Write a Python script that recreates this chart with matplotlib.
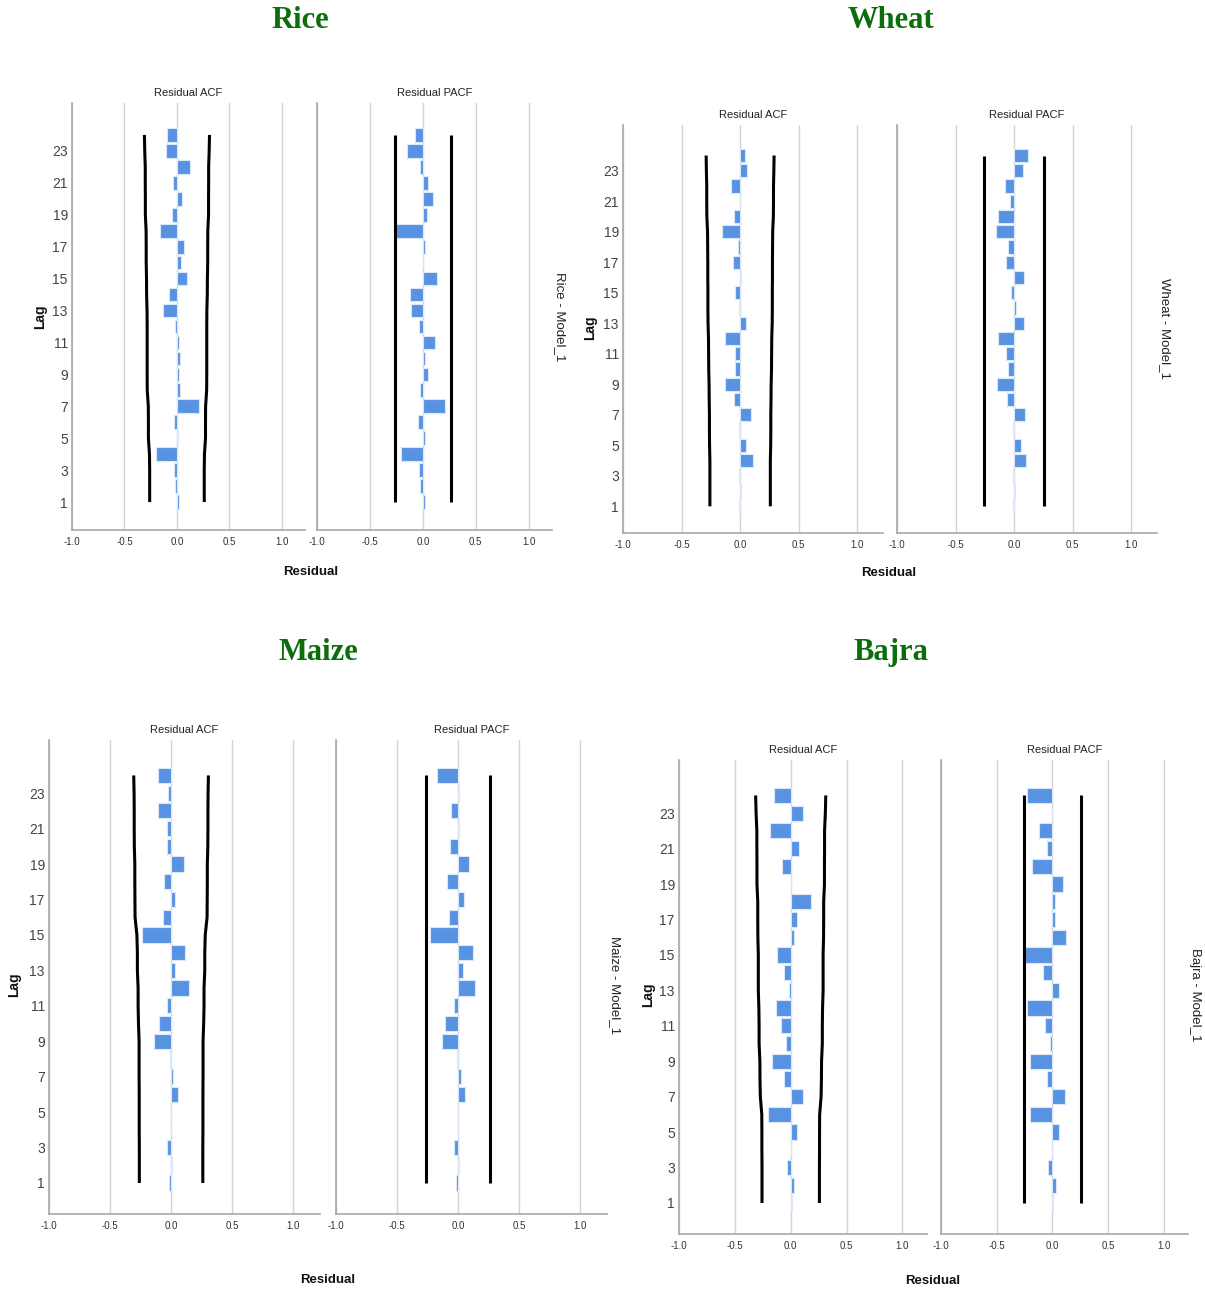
import matplotlib
matplotlib.use("Agg")
import matplotlib.pyplot as plt
import numpy as np

######## Chart data ###################################
lags = list(range(1, 25))

rice_acf = [0.022, -0.022, -0.029, -0.200, 0.013, -0.025, 0.206, 0.032, 0.016, 0.032, 0.016, -0.016,
            -0.137, -0.076, 0.095, 0.041, 0.063, -0.159, -0.044, 0.048, -0.038, 0.127, -0.105, -0.095]
rice_pacf = [0.022, -0.029, -0.032, -0.206, 0.019, -0.048, 0.206, -0.029, 0.044, 0.016, 0.114, -0.032,
             -0.111, -0.124, 0.133, 0.002, 0.016, -0.257, 0.035, 0.098, 0.051, -0.029, -0.146, -0.076]
rice_acf_lim = [0.260, 0.260, 0.260, 0.262, 0.272, 0.272, 0.273, 0.283, 0.284, 0.284, 0.284, 0.284,
                0.285, 0.289, 0.290, 0.293, 0.293, 0.294, 0.301, 0.301, 0.302, 0.302, 0.307, 0.310]
rice_pacf_lim = 0.263

wheat_acf = [-0.011, 0.009, -0.009, 0.108, 0.054, -0.006, 0.091, -0.051, -0.125, -0.043, -0.043, -0.128,
             0.051, -0.006, -0.046, 0.011, -0.057, -0.014, -0.157, -0.051, 0.003, -0.080, 0.057, 0.043]
wheat_pacf = [-0.009, 0.009, -0.006, 0.105, 0.057, -0.006, 0.091, -0.063, -0.145, -0.048, -0.068, -0.137,
              0.088, 0.014, -0.023, 0.083, -0.066, -0.048, -0.154, -0.137, -0.037, -0.074, 0.077, 0.117]
wheat_acf_lim = [0.258, 0.258, 0.258, 0.258, 0.261, 0.262, 0.262, 0.264, 0.265, 0.268, 0.269, 0.270,
                 0.274, 0.275, 0.275, 0.276, 0.276, 0.277, 0.278, 0.284, 0.285, 0.285, 0.288, 0.290]
wheat_pacf_lim = 0.256

maize_acf = [-0.014, 0.005, -0.036, -0.002, 0.002, 0.060, 0.019, -0.005, -0.137, -0.098, -0.030, 0.145,
             0.036, 0.115, -0.240, -0.066, 0.036, -0.055, 0.104, -0.030, -0.036, -0.107, -0.025, -0.107]
maize_pacf = [-0.014, 0.005, -0.033, 0.000, 0.001, 0.060, 0.022, -0.008, -0.131, -0.104, -0.033, 0.139,
              0.044, 0.123, -0.229, -0.074, 0.049, -0.090, 0.087, -0.063, 0.005, -0.057, 0.005, -0.172]
maize_acf_lim = [0.260, 0.260, 0.260, 0.261, 0.261, 0.261, 0.262, 0.262, 0.262, 0.267, 0.270, 0.270,
                 0.276, 0.276, 0.280, 0.295, 0.296, 0.297, 0.297, 0.301, 0.302, 0.302, 0.303, 0.306]
maize_pacf_lim = 0.262

bajra_acf = [0.009, 0.030, -0.036, 0.000, 0.060, -0.201, 0.108, -0.057, -0.165, -0.039, -0.087, -0.135,
             -0.015, -0.057, -0.126, 0.030, 0.054, 0.186, 0.001, -0.075, 0.075, -0.186, 0.111, -0.147]
bajra_pacf = [0.009, 0.030, -0.039, 0.000, 0.063, -0.204, 0.117, -0.048, -0.198, -0.018, -0.063, -0.230,
              0.063, -0.084, -0.254, 0.126, 0.027, 0.027, 0.096, -0.186, -0.048, -0.123, 0.001, -0.230]
bajra_acf_lim = [0.257, 0.257, 0.257, 0.258, 0.258, 0.259, 0.272, 0.275, 0.276, 0.283, 0.283, 0.285,
                 0.290, 0.290, 0.290, 0.294, 0.295, 0.295, 0.302, 0.302, 0.303, 0.303, 0.310, 0.314]
bajra_pacf_lim = 0.258

x_ticks = [-1.0, -0.5, 0.0, 0.5, 1.0]
x_ticklabels = ["-1.0", "-0.5", "0.0", "0.5", "1.0"]
y_ticks = list(range(1, 24, 2))
########################################################

W, H = 1205, 1292
BAR = "#5893e3"
GRID = "#d4d4d4"
SPINE = "#a8a8a8"
NARROW = ["Liberation Sans Narrow", "Liberation Sans", "DejaVu Sans"]

fig = plt.figure(figsize=(W / 100, H / 100), dpi=100)


def px_rect(left, top, right, bottom):
    # convert pixel box to figure fraction
    return [left / W, 1 - bottom / H, (right - left) / W, (bottom - top) / H]


def draw_panel(box, values, limits, title, show_y):
    ax = fig.add_axes(px_rect(*box))
    ax.barh(lags, values, height=0.86, color=BAR, edgecolor="#dbe8fa", linewidth=0.8, zorder=3)
    if np.ndim(limits) == 0:
        lo = [-limits] * len(lags)
        hi = [limits] * len(lags)
    else:
        lo = [-v for v in limits]
        hi = list(limits)
    ax.plot(lo, lags, color="black", lw=2.2, zorder=4, solid_capstyle="butt")
    ax.plot(hi, lags, color="black", lw=2.2, zorder=4, solid_capstyle="butt")
    ax.set_xlim(-1.0, 1.22)
    ax.set_ylim(-0.75, 26)
    ax.set_xticks(x_ticks)
    ax.set_xticklabels(x_ticklabels, fontsize=7, family=NARROW, color="#333333")
    ax.xaxis.grid(True, color=GRID, lw=1.0, zorder=0)
    ax.set_axisbelow(True)
    if show_y:
        ax.set_yticks(y_ticks)
        ax.set_yticklabels([str(v) for v in y_ticks], fontsize=10, family=NARROW, color="#444444")
    else:
        ax.set_yticks([])
    ax.tick_params(axis="x", length=0, pad=5)
    ax.tick_params(axis="y", length=0, pad=3)
    for s in ["top", "right"]:
        ax.spines[s].set_visible(False)
    for s in ["left", "bottom"]:
        ax.spines[s].set_color(SPINE)
        ax.spines[s].set_linewidth(1.2)
    ax.set_title(title, fontsize=8, family=NARROW, color="#222222", pad=5)
    return ax


# Each crop: name, title pos, acf box, pacf box, residual label pos, lag pos, model label pos
crops = [
    ("Rice", (300, 20), (72, 103, 305, 530), (317, 103, 552, 530), (311, 572), (40, 317), (560, 317),
     rice_acf, rice_pacf, rice_acf_lim, rice_pacf_lim),
    ("Wheat", (891, 20), (623, 125, 883, 533), (897, 125, 1157, 533), (889, 573), (590, 328), (1165, 328),
     wheat_acf, wheat_pacf, wheat_acf_lim, wheat_pacf_lim),
    ("Maize", (318, 652), (49, 740, 320, 1214), (336, 740, 607, 1214), (328, 1280), (14, 985), (615, 985),
     maize_acf, maize_pacf, maize_acf_lim, maize_pacf_lim),
    ("Bajra", (891, 652), (679, 760, 927, 1234), (941, 760, 1188, 1234), (933, 1281), (648, 995), (1195, 995),
     bajra_acf, bajra_pacf, bajra_acf_lim, bajra_pacf_lim),
]

for name, tpos, acf_box, pacf_box, rpos, lpos, mpos, acf, pacf, acf_lim, pacf_lim in crops:
    draw_panel(acf_box, acf, acf_lim, "Residual ACF", True)
    draw_panel(pacf_box, pacf, pacf_lim, "Residual PACF", False)

    fig.text(tpos[0] / W, 1 - tpos[1] / H, name, ha="center", va="center", fontsize=22,
             family="Liberation Serif", weight="bold", color="#0b6e0b")
    fig.text(rpos[0] / W, 1 - rpos[1] / H, "Residual", ha="center", va="center", fontsize=9.5,
             family=NARROW, weight="bold", color="#111111")
    fig.text(lpos[0] / W, 1 - lpos[1] / H, "Lag", ha="center", va="center", fontsize=10,
             family="Liberation Sans", weight="bold", rotation=90, color="#111111")
    fig.text(mpos[0] / W, 1 - mpos[1] / H, name + " - Model_1", ha="center", va="center", fontsize=9.5,
             family="Liberation Sans", rotation=-90, color="#222222")

fig.savefig("out.png", dpi=100)
